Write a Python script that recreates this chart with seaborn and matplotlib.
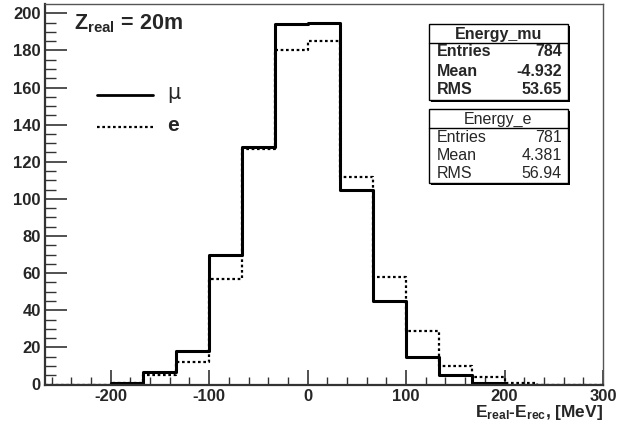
import numpy as np
import pandas as pd
import matplotlib
matplotlib.use("Agg")
import matplotlib.pyplot as plt
import seaborn as sns
from matplotlib.patches import Rectangle
from matplotlib.lines import Line2D

# ---- data ----
x_min, x_max, n_bins = -266.6667, 300.0, 17
mu_counts = [0, 0, 1, 7, 18, 70, 128, 194, 195, 105, 45, 15, 5, 1, 0, 0, 0]
e_counts = [0, 0, 1, 5, 12, 57, 127, 180, 185, 112, 58, 29, 10, 4, 1, 0, 0]
x_ticks = [-200, -100, 0, 100, 200, 300]
y_ticks = [0, 20, 40, 60, 80, 100, 120, 140, 160, 180, 200]
stats_mu = [("Entries", "784"), ("Mean", "-4.932"), ("RMS", "53.65")]
stats_e = [("Entries", "781"), ("Mean", "4.381"), ("RMS", "56.94")]

sns.set_style("white")
plt.rcParams['font.family'] = ['Liberation Sans', 'DejaVu Sans']
plt.rcParams['axes.unicode_minus'] = False
plt.rcParams['mathtext.fontset'] = 'custom'
plt.rcParams['mathtext.rm'] = 'Liberation Sans'
plt.rcParams['mathtext.it'] = 'Liberation Sans:italic'
plt.rcParams['mathtext.bf'] = 'Liberation Sans:bold'

W, H = 617, 430
fig = plt.figure(figsize=(W / 100, H / 100), dpi=100)
fig.patch.set_facecolor("white")

def fx(px):
    return px / W

def fy(py):
    return 1 - py / H

ax = fig.add_axes([fx(45), fy(384.5), fx(603) - fx(45), fy(4) - fy(384.5)])

bw = (x_max - x_min) / n_bins
centers = [x_min + bw * (i + 0.5) for i in range(n_bins)]
df = pd.DataFrame({"x": centers, "mu": mu_counts, "e": e_counts})
sns.histplot(data=df, x="x", weights="e", binwidth=bw, binrange=(x_min, x_max),
             element="step", fill=False,
             color="black", linewidth=1.6, linestyle=(0, (1.2, 1.2)), ax=ax)
sns.histplot(data=df, x="x", weights="mu", binwidth=bw, binrange=(x_min, x_max),
             element="step", fill=False,
             color="black", linewidth=2.2, ax=ax)

ax.set_xlim(x_min, x_max)
ax.set_ylim(0, 205)
ax.set_ylabel("")
ax.set_xlabel("")
ax.set_xticks(x_ticks)
ax.set_yticks(y_ticks)
ax.set_xticks(np.arange(-260, 301, 20), minor=True)
ax.set_yticks(np.arange(0, 205, 5), minor=True)
ax.tick_params(axis="both", which="both", bottom=True, left=True, top=False, right=False)
ax.tick_params(axis="both", which="major", direction="in", length=11, width=1.2,
               labelsize=12, color="#333333", pad=3)
ax.tick_params(axis="y", which="major", length=16, pad=3)
ax.tick_params(axis="both", which="minor", direction="in", length=6, width=1.0, color="#333333")
ax.tick_params(axis="y", which="minor", length=8)
for lab in ax.get_xticklabels() + ax.get_yticklabels():
    lab.set_fontweight("bold")
for s in ["left", "bottom"]:
    ax.spines[s].set_linewidth(1.6)
    ax.spines[s].set_color("#333333")
for s in ["top", "right"]:
    ax.spines[s].set_linewidth(1.0)
    ax.spines[s].set_color("#555555")

# x label
fig.text(fx(603), fy(417.5), r"E$_{\mathbf{real}}$-E$_{\mathbf{rec}}$, [MeV]", ha="right", va="baseline",
         fontsize=12.5, fontweight="bold")

# Z_real label
fig.text(fx(74), fy(29), r"Z$_{\mathbf{real}}$ = 20m", ha="left", va="baseline",
         fontsize=15.5, fontweight="bold")

# legend
fig.add_artist(Line2D([fx(97), fx(153)], [fy(95), fy(95)], color="black", lw=2.0))
fig.add_artist(Line2D([fx(97), fx(153)], [fy(127), fy(127)], color="black", lw=1.6,
                      linestyle=(0, (1.2, 1.2))))
fig.text(fx(167), fy(93), "μ", ha="left", va="center", fontsize=15, family=['DejaVu Sans'])
fig.text(fx(167), fy(125), "e", ha="left", va="center", fontsize=15, fontweight="bold")

# stats boxes
def stats_box(x0, y0, x1, y1, yhead, title, rows, row_ys, bold):
    fig.add_artist(Rectangle((fx(x0 + 2), fy(y1 + 2)), fx(x1) - fx(x0), fy(y0) - fy(y1),
                             facecolor="black", edgecolor="black", lw=0))
    fig.add_artist(Rectangle((fx(x0), fy(y1)), fx(x1) - fx(x0), fy(y0) - fy(y1),
                             facecolor="white", edgecolor="black", lw=1.0))
    fig.add_artist(Line2D([fx(x0), fx(x1)], [fy(yhead), fy(yhead)], color="black", lw=1.0))
    fw = "bold" if bold else "normal"
    fig.text((fx(x0) + fx(x1)) / 2, fy((y0 + yhead) / 2 + 0.5), title, ha="center", va="center",
             fontsize=11.5, fontweight="bold" if bold else "normal")
    for (k, v), yy in zip(rows, row_ys):
        fig.text(fx(x0 + 8), fy(yy), k, ha="left", va="center", fontsize=11.5, fontweight=fw)
        fig.text(fx(x1 - 6), fy(yy), v, ha="right", va="center", fontsize=11.5, fontweight=fw)

stats_box(429, 24, 568, 100, 43, "Energy_mu", stats_mu, [52, 71, 89], True)
stats_box(429, 109, 568, 183, 128, "Energy_e", stats_e, [137, 155, 173], False)

fig.savefig("out.png", dpi=100, facecolor="white")
